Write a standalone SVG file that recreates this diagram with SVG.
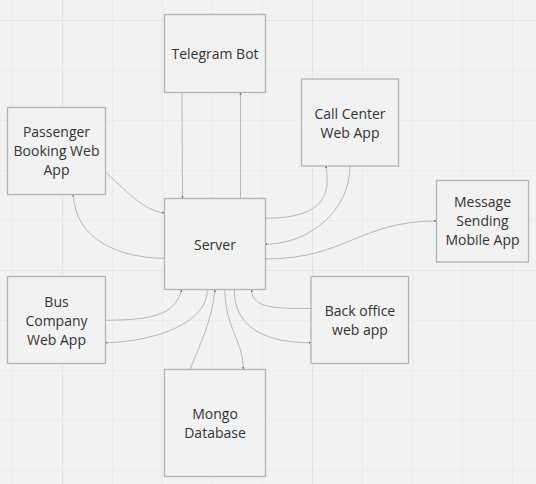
<svg xmlns="http://www.w3.org/2000/svg" width="536" height="484" viewBox="0 0 536 484">
<defs>
<style>
.bg{fill:#f2f2f2}
.gm{stroke:#ebebeb;stroke-width:1}
.gM{stroke:#e4e4e4;stroke-width:1}
.box{fill:#f2f2f2;stroke:#b3b3b3;stroke-width:1.3}
.lbl{font-family:"Open Sans","Noto Sans",sans-serif;font-size:14px;fill:#333;text-anchor:middle}
.c{fill:none;stroke:#b8b8b8;stroke-width:1}
</style>
<marker id="a" viewBox="0 0 6 6" refX="5.5" refY="3" markerWidth="2.4" markerHeight="2.4" markerUnits="userSpaceOnUse" orient="auto">
<path d="M0,0 L6,3 L0,6 Z" fill="#666"/>
</marker>
</defs>
<rect class="bg" x="0" y="0" width="536" height="484"/>
<g id="grid">
<path class="gm" d="M12.5,0V484M112.5,0V484M162.5,0V484M212.5,0V484M262.5,0V484M362.5,0V484M412.5,0V484M462.5,0V484M512.5,0V484M0,70.5H536M0,120.5H536M0,170.5H536M0,220.5H536M0,320.5H536M0,370.5H536M0,420.5H536M0,470.5H536"/>
<path class="gM" d="M62.5,0V484M312.5,0V484M0,20.5H536M0,270.5H536"/>
</g>
<g id="connectors">
<path class="c" d="M182,92.5 L182.5,198" marker-end="url(#a)"/>
<path class="c" d="M240.5,198 L240.5,92.5" marker-end="url(#a)"/>
<path class="c" d="M103.5,170 C125,190 145,212 164.5,212.7" marker-end="url(#a)"/>
<path class="c" d="M164.5,258.3 C120,258 75,240 73.3,194.3" marker-end="url(#a)"/>
<path class="c" d="M265,218.3 C318,218 332,200 325.8,166" marker-end="url(#a)"/>
<path class="c" d="M350,166 C350,210 310,244 265.3,244.3" marker-end="url(#a)"/>
<path class="c" d="M265.3,259 C345,259 360,221 436.5,221" marker-end="url(#a)"/>
<path class="c" d="M105.3,320.3 C160,320 175,312 181.7,290" marker-end="url(#a)"/>
<path class="c" d="M207.3,290 C207,325 150,342 105.3,342.7" marker-end="url(#a)"/>
<path class="c" d="M190,369.5 C200,345 212,320 215,290" marker-end="url(#a)"/>
<path class="c" d="M224.7,290 C226,330 243,340 243.3,369.5" marker-end="url(#a)"/>
<path class="c" d="M234.3,290 C234,330 270,343 311,342.7" marker-end="url(#a)"/>
<path class="c" d="M311,308.5 C280,308 252,310 251.7,290" marker-end="url(#a)"/>
</g>
<g id="telegram"><rect class="box" x="164.5" y="14.5" width="101" height="78"/><text class="lbl" x="215" y="59">Telegram Bot</text></g>
<g id="callcenter"><rect class="box" x="301.5" y="79" width="97" height="87"/><text class="lbl" x="350" y="119">Call Center</text><text class="lbl" x="350" y="138">Web App</text></g>
<g id="passenger"><rect class="box" x="7.5" y="107.5" width="98" height="87"/><text class="lbl" x="56.5" y="137">Passenger</text><text class="lbl" x="56.5" y="156">Booking Web</text><text class="lbl" x="56.5" y="175">App</text></g>
<g id="server"><rect class="box" x="164.5" y="198.5" width="101" height="91"/><text class="lbl" x="215" y="250">Server</text></g>
<g id="message"><rect class="box" x="436.5" y="180.5" width="92" height="81.5"/><text class="lbl" x="482.5" y="207">Message</text><text class="lbl" x="482.5" y="226">Sending</text><text class="lbl" x="482.5" y="245">Mobile App</text></g>
<g id="bus"><rect class="box" x="7.5" y="276.5" width="98" height="87"/><text class="lbl" x="56.5" y="307">Bus</text><text class="lbl" x="56.5" y="326">Company</text><text class="lbl" x="56.5" y="345">Web App</text></g>
<g id="backoffice"><rect class="box" x="311" y="276.5" width="97.5" height="87"/><text class="lbl" x="360" y="316">Back office</text><text class="lbl" x="360" y="335">web app</text></g>
<g id="mongo"><rect class="box" x="164.5" y="369.5" width="101" height="107"/><text class="lbl" x="215" y="419">Mongo</text><text class="lbl" x="215" y="438">Database</text></g>
</svg>
